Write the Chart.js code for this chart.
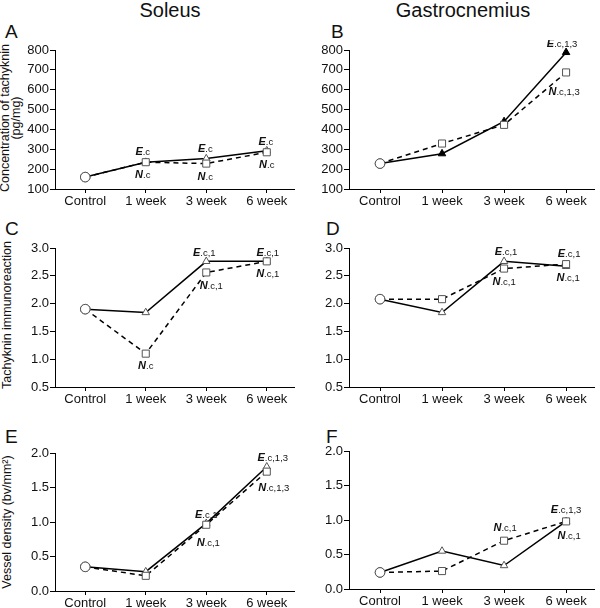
<!DOCTYPE html>
<html>
<head>
<meta charset="utf-8">
<script src="https://cdn.jsdelivr.net/npm/chart.js@4"></script>
<style>
  html, body { margin: 0; padding: 0; background: #fff; }
  body { width: 600px; height: 608px; position: relative; overflow: hidden; font-family: "Liberation Sans", Arial, sans-serif; color: #111; }
  .ttl { position: absolute; font-size: 20px; line-height: 20px; white-space: nowrap; transform: translateX(-50%); }
  .let { position: absolute; font-size: 19px; line-height: 19px; }
  .ytl { position: absolute; font-size: 12.5px; line-height: 11px; white-space: nowrap; text-align: center; transform: translate(-50%, -50%) rotate(-90deg); }
  canvas { position: absolute; }
</style>
</head>
<body>
<div class="ttl" style="left:170px;top:0px">Soleus</div>
<div class="ttl" style="left:463px;top:0px">Gastrocnemius</div>

<div class="let" style="left:5px;top:22px">A</div>
<div class="let" style="left:331px;top:22px">B</div>
<div class="let" style="left:5px;top:219px">C</div>
<div class="let" style="left:326px;top:219px">D</div>
<div class="let" style="left:5px;top:427px">E</div>
<div class="let" style="left:326px;top:427px">F</div>

<div class="ytl" style="left:11px;top:118px">Concentration of tachyknin<br>(pg/mg)</div>
<div class="ytl" style="left:7px;top:315px">Tachyknin immunoreaction</div>
<div class="ytl" style="left:7px;top:522px">Vessel density (bv/mm²)</div>

<script>
const categories = ["Control", "1 week", "3 week", "6 week"];

// E = solid line, N = dashed line
const soleusConcE = [160, 235, 253, 293];
const soleusConcN = [160, 235, 228, 285];
const gastroConcE = [228, 278, 440, 788];
const gastroConcN = [228, 329, 423, 687];

const soleusImmE = [1.90, 1.84, 2.76, 2.76];
const soleusImmN = [1.90, 1.10, 2.56, 2.76];
const gastroImmE = [2.08, 1.84, 2.76, 2.67];
const gastroImmN = [2.08, 2.08, 2.63, 2.71];

const soleusVesE = [0.35, 0.28, 0.98, 1.80];
const soleusVesN = [0.35, 0.22, 0.96, 1.73];
const gastroVesE = [0.24, 0.55, 0.34, 0.98];
const gastroVesN = [0.24, 0.26, 0.70, 0.98];

const concTicks = [100, 200, 300, 400, 500, 600, 700, 800];
const immTicks = [0.5, 1.0, 1.5, 2.0, 2.5, 3.0];
const vesTicks = [0.0, 0.5, 1.0, 1.5, 2.0];

const FONT = '"Liberation Sans", Arial, sans-serif';

const panels = [
    { left: 0, top: 40, h: 171, e: soleusConcE, n: soleusConcN, ticks: concTicks, dec: 0, yWidth: 55, padRight: 0, filledE: false,
      notes: [["E", 1, ".c", -3, -11], ["N", 1, ".c", -3, 12], ["E", 2, ".c", -1, -11], ["N", 2, ".c", -1, 12], ["E", 3, ".c", -1, -10], ["N", 3, ".c", 0, 12]] },
    { left: 300, top: 40, h: 171, e: gastroConcE, n: gastroConcN, ticks: concTicks, dec: 0, yWidth: 49, padRight: 3, filledE: true,
      notes: [["E", 3, ".c,1,3", -4, -9], ["N", 3, ".c,1,3", -2, 19]] },
    { left: 0, top: 238, h: 171, e: soleusImmE, n: soleusImmN, ticks: immTicks, dec: 1, yWidth: 55, padRight: 0, filledE: false,
      notes: [["E", 2, ".c,1", -2, -9], ["E", 3, ".c,1", 1, -9], ["N", 2, ".c,1", 5, 13], ["N", 3, ".c,1", 1, 12], ["N", 1, ".c", 0, 11]] },
    { left: 300, top: 238, h: 171, e: gastroImmE, n: gastroImmN, ticks: immTicks, dec: 1, yWidth: 49, padRight: 3, filledE: false,
      notes: [["E", 2, ".c,1", 2, -10], ["E", 3, ".c,1", 3, -13], ["N", 2, ".c,1", 0, 12], ["N", 3, ".c,1", 2, 13]] },
    { left: 0, top: 443, h: 170, e: soleusVesE, n: soleusVesN, ticks: vesTicks, dec: 1, yWidth: 55, padRight: 0, filledE: false,
      notes: [["E", 3, ".c,1,3", 6, -10], ["N", 3, ".c,1,3", 7, 15], ["E", 2, ".c,1", 0, -9], ["N", 2, ".c,1", 2, 17]] },
    { left: 300, top: 441, h: 170, e: gastroVesE, n: gastroVesN, ticks: vesTicks, dec: 1, yWidth: 49, padRight: 3, filledE: false,
      notes: [["E", 3, ".c,1,3", 0, -12], ["N", 3, ".c,1", 3, 14], ["N", 2, ".c,1", 1, -14]] }
];

function toPoints(vals) {
    return vals.map((v, i) => ({ x: i, y: v }));
}

function makePanel(p) {
    const cv = document.createElement("canvas");
    cv.width = 300;
    cv.height = p.h;
    cv.style.left = p.left + "px";
    cv.style.top = p.top + "px";
    document.body.appendChild(cv);

    const notesPlugin = {
        id: "notes",
        afterDatasetsDraw(chart) {
            const ctx = chart.ctx;
            const xs = chart.scales.x;
            const ys = chart.scales.y;
            const big = "italic bold 11px " + FONT;
            const small = "9.5px " + FONT;
            ctx.save();
            ctx.fillStyle = "#111";
            ctx.textBaseline = "alphabetic";
            p.notes.forEach(([s, i, sub, dx, dy]) => {
                const vals = s === "E" ? p.e : p.n;
                const x = xs.getPixelForValue(i) + dx;
                const y = ys.getPixelForValue(vals[i]) + dy;
                ctx.font = big;
                const w1 = ctx.measureText(s).width;
                ctx.font = small;
                const w2 = ctx.measureText(sub).width;
                const x0 = x - (w1 + w2) / 2;
                ctx.font = big;
                ctx.fillText(s, x0, y + 4);
                ctx.font = small;
                ctx.fillText(sub, x0 + w1, y + 4);
            });
            ctx.restore();
        }
    };

    new Chart(cv, {
        type: "line",
        data: {
            datasets: [
                {
                    label: "N",
                    data: toPoints(p.n),
                    borderColor: "#000",
                    borderWidth: 1.5,
                    borderDash: [5, 4],
                    pointStyle: categories.map((c, i) => (i === 0 ? "circle" : "rect")),
                    pointRadius: categories.map((c, i) => (i === 0 ? 4.8 : 5)),
                    pointBackgroundColor: "#fff",
                    pointBorderColor: "#555",
                    pointBorderWidth: 1,
                    tension: 0,
                    clip: false
                },
                {
                    label: "E",
                    data: toPoints(p.e),
                    borderColor: "#000",
                    borderWidth: 1.5,
                    pointStyle: categories.map((c, i) => (i === 0 ? "circle" : "triangle")),
                    pointRadius: categories.map((c, i) => (i === 0 ? 4.8 : 4.3)),
                    pointBackgroundColor: categories.map((c, i) => (p.filledE && i > 0 ? "#000" : "#fff")),
                    pointBorderColor: categories.map((c, i) => (p.filledE && i > 0 ? "#000" : "#555")),
                    pointBorderWidth: 1,
                    tension: 0,
                    clip: false
                }
            ]
        },
        options: {
            responsive: false,
            animation: false,
            devicePixelRatio: 1,
            layout: { padding: { top: 10, right: p.padRight, left: 0, bottom: 0 } },
            plugins: { legend: { display: false }, tooltip: { enabled: false } },
            scales: {
                x: {
                    type: "linear",
                    min: -0.5,
                    max: 3.45,
                    afterBuildTicks: (s) => { s.ticks = categories.map((c, i) => ({ value: i })); },
                    afterFit: (s) => { s.height = 22; },
                    ticks: {
                        callback: (v) => categories[v],
                        font: { size: 13, family: FONT },
                        color: "#111",
                        padding: 1,
                        maxRotation: 0,
                        autoSkip: false
                    },
                    grid: { drawOnChartArea: false, drawTicks: true, tickLength: 4, color: "#000" },
                    border: { color: "#000", width: 1 }
                },
                y: {
                    min: p.ticks[0],
                    max: p.ticks[p.ticks.length - 1],
                    afterBuildTicks: (s) => { s.ticks = p.ticks.map((v) => ({ value: v })); },
                    afterFit: (s) => { s.width = p.yWidth; },
                    ticks: {
                        callback: (v) => Number(v).toFixed(p.dec),
                        font: { size: 13, family: FONT },
                        color: "#111",
                        padding: 1
                    },
                    grid: { drawOnChartArea: false, drawTicks: true, tickLength: 5, color: "#000" },
                    border: { color: "#000", width: 1 }
                }
            }
        },
        plugins: [notesPlugin]
    });
}

panels.forEach(makePanel);
</script>
</body>
</html>
